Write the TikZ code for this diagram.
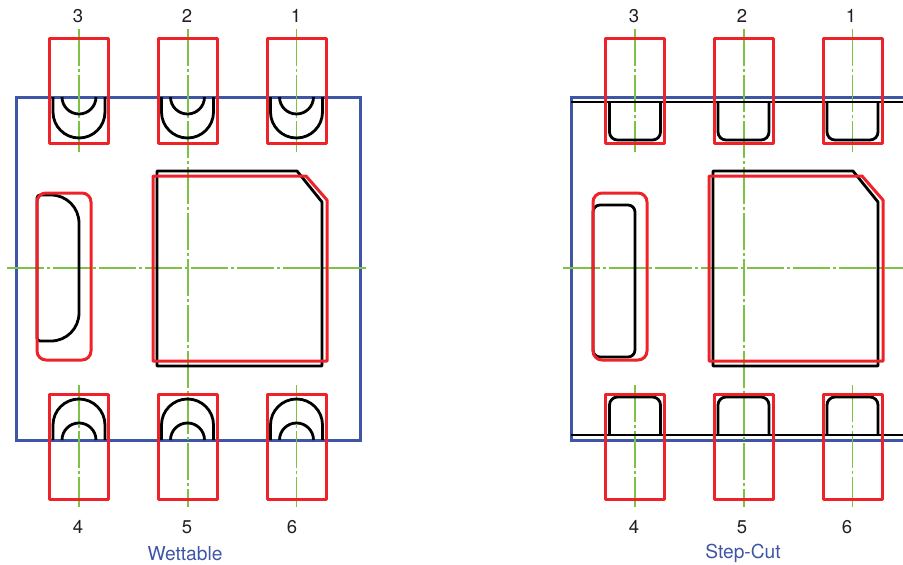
\documentclass[tikz,border=0pt]{standalone}
\usepackage{fontspec}
\setmainfont{TeX Gyre Heros}
\usepackage{xcolor}
\usepackage{tikz}
\definecolor{padred}{HTML}{EE2229}
\definecolor{bodyblue}{HTML}{3F55A5}
\definecolor{axisgreen}{HTML}{7DC242}
\definecolor{numtext}{HTML}{231F20}
\tikzset{
  redline/.style={draw=padred,line width=3pt,line join=round},
  blueline/.style={draw=bodyblue,line width=3pt},
  blackline/.style={draw=black,line width=2.8pt,line join=round},
  axisline/.style={draw=axisgreen,line width=1.3pt,dash pattern=on 37pt off 3pt on 3pt off 3pt},
  pinnum/.style={text=numtext,font=\fontsize{18.5}{22}\selectfont},
  caption/.style={text=bodyblue,font=\fontsize{19.2}{22}\selectfont}
}
\begin{document}
\begin{tikzpicture}[x=1pt,y=-1pt]
\useasboundingbox (0,0) rectangle (903,565);
% package bodies
\draw[blueline] (16,97) rectangle (360,440);
\draw[blueline] (903,97) -- (571,97) -- (571,440) -- (903,440);
% center lines
\foreach \dx in {0,556} {
  \begin{scope}[xshift=\dx pt]
  \foreach \px in {79,296.5} {
    \draw[axisline] (\px,29) -- (\px,152);
    \draw[axisline] (\px,385) -- (\px,507);
  }
  \draw[axisline] (188,29) -- (188,507);
  \draw[axisline] (7,268) -- (366,268);
  \end{scope}
}
% wettable flanks
\foreach \px in {79,187.5,296.5} {
  \begin{scope}[xshift=\px pt]
  \draw[blackline,rounded corners=26pt] (-26,97) -- (-26,138) -- (26,138) -- (26,97);
  \draw[blackline,rounded corners=17pt] (-17,97) -- (-17,114) -- (17,114) -- (17,97);
  \draw[blackline,rounded corners=26pt] (-26,440) -- (-26,399) -- (26,399) -- (26,440);
  \draw[blackline,rounded corners=17pt] (-17,440) -- (-17,423) -- (17,423) -- (17,440);
  \end{scope}
}
% step-cut flanks
\draw[blackline] (571,102) -- (903,102);
\draw[blackline] (571,435) -- (903,435);
\foreach \px in {635,743.5,852.5} {
  \begin{scope}[xshift=\px pt]
  \draw[blackline,rounded corners=8pt] (-25.5,102) -- (-25.5,140) -- (25.5,140) -- (25.5,102);
  \draw[blackline,rounded corners=8pt] (-25.5,435) -- (-25.5,397) -- (25.5,397) -- (25.5,435);
  \end{scope}
}
% side pads
\draw[blackline] (37,268) [rounded corners=3pt] -- (37,195) [rounded corners=28pt] -- (79,195) -- (79,341) [rounded corners=3pt] -- (37,341) -- (37,268);
\draw[blackline,rounded corners=7pt] (593,205) rectangle (635,357);
% main pads
\foreach \dx in {0,556} {
  \begin{scope}[xshift=\dx pt]
  \draw[blackline] (157,171) -- (297,171) -- (322,202) -- (322,366) -- (157,366) -- cycle;
  \draw[redline] (153,176) -- (306,176) -- (327,200) -- (327,361) -- (153,361) -- cycle;
  \draw[redline,rounded corners=9pt] (37,193) rectangle (91,360);
  \foreach \px in {79,187.5,296.5} {
    \draw[redline] (\px-29.5,38) rectangle (\px+29.5,143);
    \draw[redline] (\px-29.5,394) rectangle (\px+29.5,499);
  }
  \end{scope}
}
% pin numbers
\node[pinnum] (wthree) at (78,16) {3};
\node[pinnum] (wtwo) at (187,16) {2};
\node[pinnum] (wone) at (296,16) {1};
\node[pinnum] (wfour) at (78,527) {4};
\node[pinnum] (wfive) at (187,527) {5};
\node[pinnum] (wsix) at (292,527) {6};
\node[pinnum] (sthree) at (634,16) {3};
\node[pinnum] (stwo) at (742,16) {2};
\node[pinnum] (sone) at (851,16) {1};
\node[pinnum] (sfour) at (634,527) {4};
\node[pinnum] (sfive) at (742,527) {5};
\node[pinnum] (ssix) at (847,527) {6};
% captions
\node[caption] (wettable) at (185,553.5) {Wettable};
\node[caption] (stepcut) at (743,553.5) {Step-Cut};
\end{tikzpicture}
\end{document}
